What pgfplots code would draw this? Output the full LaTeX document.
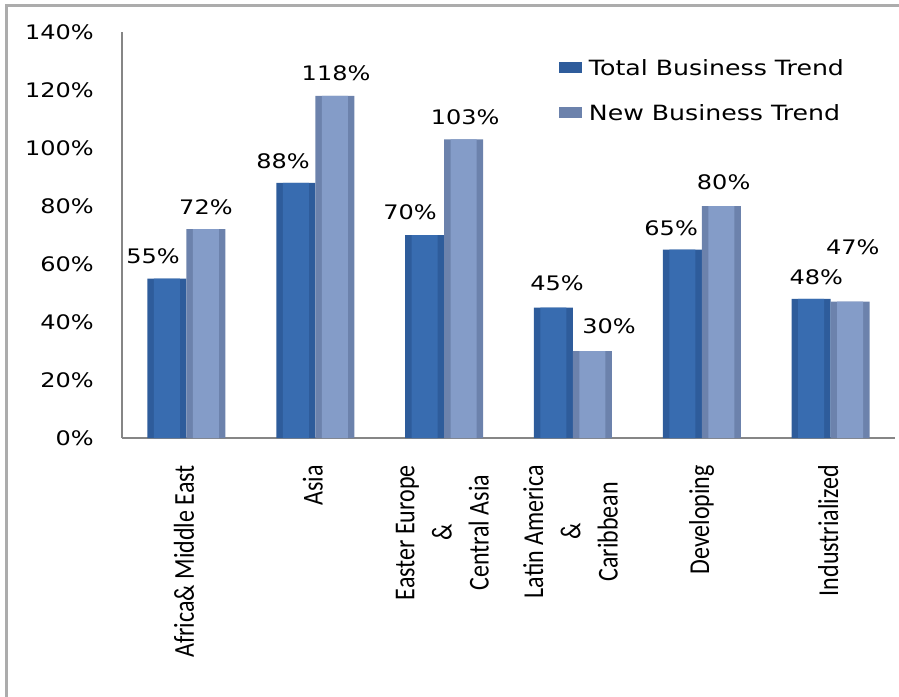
\documentclass[border=0pt]{standalone}
\usepackage{pgfplots}
\pgfplotsset{compat=1.18}
\usepackage{pgfplotstable}
\usepackage{fontspec}
\usepackage{graphicx}
\newfontfamily\valfont[FakeStretch=1.2]{DejaVu Sans}
\newfontfamily\catfont{Carlito}
\newcommand\valsize{\valfont\fontsize{20}{24}\selectfont}
\newcommand\legsize{\valfont\fontsize{21}{25}\selectfont}
\newcommand\catsize{\catfont\fontsize{24}{31}\selectfont}
\newcommand\cat[1]{\scalebox{1}[1.2]{\begin{tabular}{@{}c@{}}#1\end{tabular}}}
\definecolor{axisgray}{RGB}{134,134,134}
\definecolor{framegray}{RGB}{172,172,172}
\definecolor{darkbar}{RGB}{46,92,155}
\definecolor{darkhi}{RGB}{56,108,176}
\definecolor{lightbar}{RGB}{108,130,172}
\definecolor{lighthi}{RGB}{132,156,200}

\pgfplotstableread{
x y dx dy
0 55 -33.4 22.5
1 88 -32.2 21.8
2 70 -34.0 23
3 45 -15.8 24.5
4 65 -30.6 21.5
5 48 -14.4 21.8
}\totaltab
\pgfplotstableread{
x y dx dy
0 72 19.5 22.2
1 118 20.8 22.8
2 103 21.0 22.3
3 30 36.2 25
4 80 21.9 24
5 47 22.3 54.7
}\newtab

\begin{document}
\begin{tikzpicture}
\begin{axis}[
  scale only axis, width=773pt, height=406pt,
  xmin=-0.5, xmax=5.5, ymin=0, ymax=140,
  axis x line=bottom, axis y line=left,
  axis line style={-, draw=axisgray, line width=2.5pt},
  ytick={0,20,...,140}, xtick={0,1,2,3,4,5},
  major tick length=0pt,
  /pgf/number format/assume math mode=true,
  yticklabel={\pgfmathprintnumber{\tick}\%},
  yticklabel style={font=\valsize, anchor=east, inner sep=0pt, xshift=-28pt},
  xticklabels={{\cat{Africa\& Middle East}},{\cat{Asia}},{\cat{Easter Europe\\\&\\Central Asia}},{\cat{Latin America\\\&\\Caribbean}},{\cat{Developing}},{\cat{Industrialized}}},
  xticklabel style={font=\catsize, yshift=-27pt, rotate=90, anchor=east, inner sep=0pt},
  legend image code/.code={\fill[#1] (-5pt,-5pt) rectangle (18pt,6pt);},
  legend cell align=left,
  legend style={at={(axis description cs:0.5653,0.9292)}, anchor=north west,
    draw=none, fill=none, inner sep=0pt, outer sep=0pt, font=\legsize,
    row sep=30pt, nodes={inner ysep=0pt, text height=15pt, text depth=0pt},
    /tikz/every odd column/.append style={column sep=5pt}},
]
\addplot[ybar, bar width=39pt, bar shift=-19.5pt, fill=darkbar, draw=none]
  table[x=x,y=y]{\totaltab};
\addlegendentry{Total Business Trend}
\addplot[ybar, bar width=39pt, bar shift=19.5pt, fill=lightbar, draw=none]
  table[x=x,y=y]{\newtab};
\addlegendentry{New Business Trend}
\addplot[ybar, bar width=26pt, bar shift=-19.5pt, fill=darkhi, draw=none, forget plot,
  visualization depends on={\thisrow{dx}\as\mydx},
  visualization depends on={\thisrow{dy}\as\mydy},
  nodes near coords={\pgfmathprintnumber{\pgfplotspointmeta}\%},
  every node near coord/.append style={font=\valsize, text=black, anchor=center, inner sep=0pt, xshift=\mydx pt, yshift=\mydy pt}]
  table[x=x,y=y]{\totaltab};
\addplot[ybar, bar width=26pt, bar shift=19.5pt, fill=lighthi, draw=none, forget plot,
  visualization depends on={\thisrow{dx}\as\mydx},
  visualization depends on={\thisrow{dy}\as\mydy},
  nodes near coords={\pgfmathprintnumber{\pgfplotspointmeta}\%},
  every node near coord/.append style={font=\valsize, text=black, anchor=center, inner sep=0pt, xshift=\mydx pt, yshift=\mydy pt}]
  table[x=x,y=y]{\newtab};
\end{axis}
\draw[line width=2.5pt, framegray] (-115.5pt,-300pt) -- (-115.5pt,432.7pt) -- (820pt,432.7pt);
\pgfresetboundingbox
\useasboundingbox (-122pt,-258pt) rectangle (777pt,438pt);
\end{tikzpicture}
\end{document}
